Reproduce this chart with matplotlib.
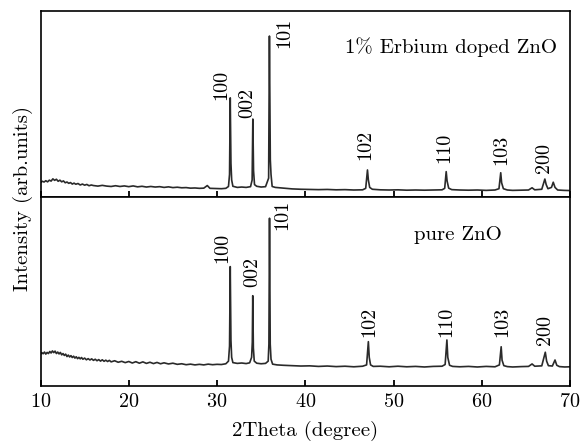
import matplotlib
matplotlib.use("Agg")
import matplotlib.pyplot as plt
import numpy as np

plt.rcParams['font.family'] = 'cmr10'
plt.rcParams['axes.formatter.use_mathtext'] = True

# XRD trace of the 1% Er doped sample (2theta in degree, intensity in a.u.)
two_theta_doped = [
    10.0, 10.2, 10.4, 10.6, 10.8, 11.0, 11.2, 11.4, 11.6, 11.8, 12.0, 12.2, 12.4, 12.6,
    12.8, 13.0, 13.2, 13.4, 13.6, 13.8, 14.0, 14.25, 14.5, 14.75, 15.0, 15.25, 15.5,
    15.75, 16.0, 16.5, 17.0, 17.5, 18.0, 18.5, 19.0, 19.5, 20.0, 20.5, 21.0, 21.5, 22.0,
    22.5, 23.0, 23.5, 24.0, 24.5, 25.0, 25.5, 26.0, 26.5, 27.0, 27.5, 28.0, 28.5, 28.9,
    29.2, 29.8, 30.5, 31.0, 31.3, 31.42, 31.5, 31.58, 31.66, 31.8, 32.3, 32.8, 33.3,
    33.8, 33.98, 34.06, 34.14, 34.25, 34.5, 35.0, 35.5, 35.85, 35.94, 36.04, 36.12,
    36.25, 36.6, 37.5, 38.5, 39.5, 40.5, 41.5, 42.5, 43.5, 44.5, 45.5, 46.5, 46.85,
    47.05, 47.15, 47.3, 47.6, 48.5, 49.5, 50.5, 51.5, 52.5, 53.5, 54.5, 55.5, 55.8,
    55.97, 56.07, 56.25, 56.6, 57.5, 58.5, 59.5, 60.5, 61.5, 61.95, 62.15, 62.25,
    62.45, 62.9, 63.5, 64.5, 65.3, 65.7, 66.0, 66.8, 67.15, 67.3, 67.5, 67.9, 68.1,
    68.3, 68.6, 69.3, 70.0]
intensity_doped = [
    7.6, 8.3, 7.9, 8.6, 8.0, 8.9, 8.4, 9.6, 8.8, 9.4, 8.3, 8.9, 8.0, 8.5,
    7.5, 7.9, 7.2, 7.6, 6.8, 7.3, 6.7, 7.1, 6.3, 6.8, 6.2, 6.6, 5.9,
    6.3, 6.0, 5.7, 6.1, 5.7, 5.5, 5.9, 5.5, 5.8, 5.4, 5.8, 5.3, 5.6, 5.2,
    5.5, 5.2, 5.4, 5.0, 5.3, 4.9, 5.1, 4.8, 4.9, 4.6, 4.7, 4.5, 4.6, 6.0,
    4.5, 4.4, 4.3, 4.5, 5.5, 12.0, 53.2, 18.0, 9.0, 5.6, 5.0, 5.2, 5.0,
    5.4, 9.0, 41.8, 14.0, 6.5, 5.6, 5.2, 5.4, 10.0, 86.5, 20.0, 12.0,
    5.5, 5.0, 4.6, 4.2, 4.0, 3.9, 3.8, 3.9, 3.7, 3.8, 3.6, 3.7, 4.5,
    14.4, 9.0, 5.0, 4.0, 3.7, 3.6, 3.7, 3.5, 3.6, 3.5, 3.6, 3.7, 4.5,
    13.5, 8.5, 4.6, 3.8, 3.6, 3.5, 3.6, 3.4, 3.6, 4.3, 12.9, 7.5,
    4.3, 3.6, 3.4, 3.5, 3.6, 4.8, 3.7, 4.0, 9.5, 6.5, 4.3, 5.0, 7.8,
    5.0, 3.6, 3.4, 3.3]

# XRD trace of pure ZnO
two_theta_pure = [
    10.0, 10.15, 10.3, 10.45, 10.6, 10.75, 10.9, 11.05, 11.2, 11.35, 11.5, 11.65, 11.8,
    11.95, 12.1, 12.25, 12.4, 12.55, 12.7, 12.85, 13.0, 13.15, 13.3, 13.45, 13.6, 13.75,
    13.9, 14.05, 14.2, 14.35, 14.5, 14.65, 14.8, 15.0, 15.2, 15.4, 15.6, 15.8, 16.0,
    16.2, 16.4, 16.6, 16.8, 17.0, 17.2, 17.4, 17.6, 17.8, 18.0, 18.4, 18.8, 19.2, 19.6,
    20.0, 20.4, 20.8, 21.2, 21.6, 22.0, 22.4, 22.8, 23.2, 23.6, 24.0, 24.5, 25.0, 25.5,
    26.0, 26.5, 27.0, 27.5, 28.0, 28.5, 29.0, 29.5, 30.0, 30.5, 31.0, 31.3, 31.42,
    31.5, 31.58, 31.66, 31.8, 32.3, 32.8, 33.3, 33.7, 33.92, 34.0, 34.05, 34.12, 34.22,
    34.5, 35.0, 35.5, 35.8, 35.88, 35.95, 36.03, 36.12, 36.3, 36.8, 37.5, 38.5, 39.5,
    40.5, 41.5, 42.5, 43.5, 44.5, 45.5, 46.5, 46.95, 47.15, 47.25, 47.4, 47.7, 48.5,
    49.5, 50.5, 51.5, 52.5, 53.5, 54.5, 55.5, 55.85, 56.05, 56.15, 56.35, 56.7, 57.5,
    58.5, 59.5, 60.5, 61.5, 62.0, 62.2, 62.3, 62.5, 62.9, 63.5, 64.5, 65.3, 65.7, 66.0,
    66.8, 67.2, 67.35, 67.55, 68.0, 68.3, 68.5, 68.8, 69.4, 70.0]
intensity_pure = [
    16.6, 17.5, 16.9, 17.8, 16.7, 17.6, 17.0, 18.1, 17.3, 18.4, 17.5, 18.3, 17.0,
    17.8, 16.8, 17.6, 16.3, 17.0, 16.0, 16.7, 15.4, 16.2, 15.2, 15.9, 14.9, 15.6,
    14.6, 15.3, 14.3, 15.0, 14.2, 14.9, 14.0, 14.6, 13.7, 14.3, 13.6, 14.2, 13.4,
    14.0, 13.2, 13.8, 13.0, 13.7, 12.9, 13.5, 12.8, 13.4, 12.6, 13.2, 12.4, 12.9, 12.2,
    12.8, 12.0, 12.7, 11.9, 12.6, 11.8, 12.4, 11.7, 12.3, 11.6, 12.1, 11.5, 11.9, 11.3,
    11.6, 11.1, 11.4, 11.0, 11.3, 11.0, 11.4, 11.1, 11.3, 11.2, 11.6, 13.0, 21.0,
    63.0, 24.0, 15.0, 12.2, 11.8, 12.0, 11.7, 12.1, 15.0, 23.0, 47.6, 20.0, 13.0,
    11.9, 11.6, 11.8, 13.0, 22.0, 88.6, 22.0, 14.0, 11.4, 11.0, 10.8, 10.6, 10.4,
    10.5, 10.2, 10.4, 10.1, 10.3, 10.0, 10.3, 11.0, 23.3, 15.0, 11.0, 10.2, 10.3,
    10.0, 10.3, 10.0, 10.2, 9.9, 10.2, 10.3, 11.2, 24.2, 15.0, 10.8, 10.2, 10.0,
    10.2, 9.9, 10.2, 10.0, 11.0, 20.6, 13.5, 10.6, 10.1, 9.9, 10.1, 10.2, 11.5, 10.3,
    10.5, 17.7, 13.0, 10.6, 10.4, 13.6, 10.8, 10.1, 9.9, 10.0]

# reflection labels and where their foot sits (2theta, intensity)
peak_labels = ['100', '002', '101', '102', '110', '103', '200']
label_x_doped = [30.45, 33.46, 37.65, 46.83, 55.78, 62.24, 67.11]
label_y_doped = [52.1, 42.4, 79.9, 19.8, 18.1, 17.1, 12.8]
label_x_pure = [30.62, 34.02, 37.37, 47.28, 55.95, 62.35, 67.22]
label_y_pure = [64.9, 52.2, 82.4, 25.8, 25.8, 25.8, 21.5]

fig = plt.figure(figsize=(5.82, 4.42), dpi=100)
ax_top = fig.add_axes([0.0696, 0.555, 0.9098, 0.4201])
ax_bot = fig.add_axes([0.0696, 0.1274, 0.9098, 0.4276])

panels = [
    (ax_top, two_theta_doped, intensity_doped, label_x_doped, label_y_doped,
     '1% Erbium doped ZnO', 0.9755, 0.803),
    (ax_bot, two_theta_pure, intensity_pure, label_x_pure, label_y_pure,
     'pure ZnO', 0.8718, 0.795),
]
for ax, xs, ys, lx, ly, name, nx, ny in panels:
    ax.plot(xs, ys, color='#2a2a2a', lw=1.2)
    for txt, px, py in zip(peak_labels, lx, ly):
        ax.text(px, py, txt, rotation=90, ha='center', va='bottom', fontsize=14.5)
    ax.text(nx, ny, name, transform=ax.transAxes, ha='right', va='center', fontsize=15)
    ax.set_xlim(10, 70)
    ax.set_ylim(0, 100)
    ax.set_xticks(np.arange(10, 71, 10))
    ax.set_yticks([])
    ax.tick_params(axis='x', direction='in', length=4.5, width=1.3, pad=5,
                   labelsize=14.5, top=False)
    for s in ax.spines.values():
        s.set_linewidth(1.2)

ax_top.tick_params(axis='x', labelbottom=False)

fig.text(0.04, 0.551, 'Intensity (arb.units)', rotation=90, ha='center', va='center',
         fontsize=15)
fig.text(0.5244, 0.026, '2Theta (degree)', ha='center', va='center', fontsize=15)

fig.savefig('out.png', dpi=100)
